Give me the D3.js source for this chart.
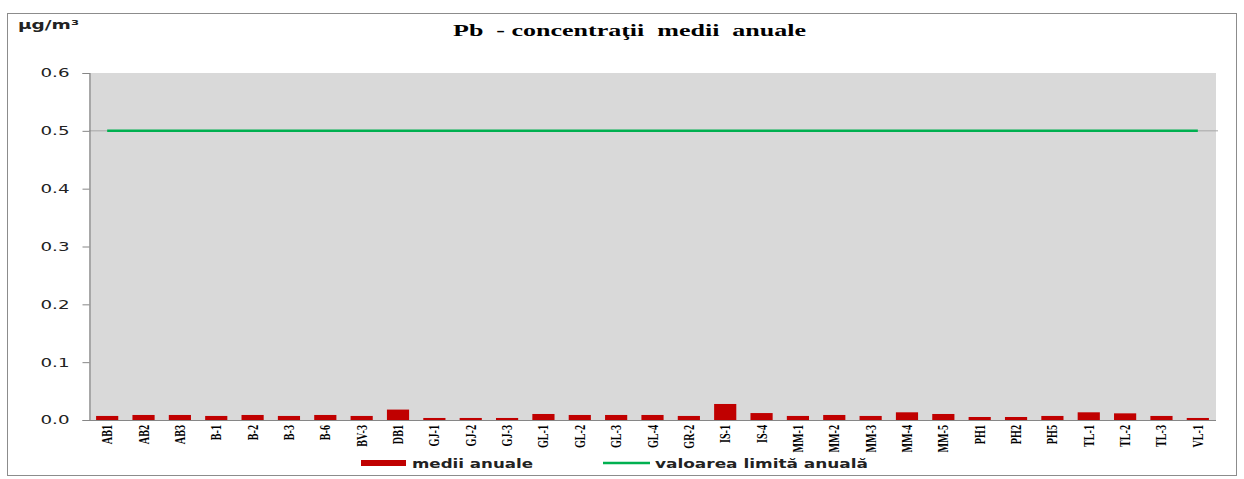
<!DOCTYPE html>
<html>
<head>
<meta charset="utf-8">
<script src="https://cdn.jsdelivr.net/npm/d3@7"></script>
<style>
  body { margin: 0; background: #fff; }
  svg { display: block; }
</style>
</head>
<body>
<svg id="chart" width="1244" height="479"></svg>
<script>
// statii de monitorizare
var stations = ["AB1", "AB2", "AB3", "B-1", "B-2", "B-3", "B-6", "BV-3", "DB1",
  "GJ-1", "GJ-2", "GJ-3", "GL-1", "GL-2", "GL-3", "GL-4", "GR-2", "IS-1", "IS-4",
  "MM-1", "MM-2", "MM-3", "MM-4", "MM-5", "PH1", "PH2", "PH5", "TL-1", "TL-2", "TL-3", "VL-1"];

// medii anuale (µg/m3)
var annualMeans = [0.007, 0.0087, 0.0087, 0.007, 0.0087, 0.007, 0.0087, 0.007, 0.018,
  0.0035, 0.0035, 0.0035, 0.0104, 0.0087, 0.0087, 0.0087, 0.007, 0.0277, 0.012,
  0.007, 0.0087, 0.007, 0.0133, 0.0104, 0.0052, 0.0052, 0.007, 0.0133, 0.0115, 0.007, 0.0035];

// valoarea limita anuala
var limitValue = 0.5;

var yTicks = [0, 0.1, 0.2, 0.3, 0.4, 0.5, 0.6];

var svgElem = d3.select("#chart");
var plot = { left: 89, right: 1216, top: 73, bottom: 420 };

// chenarul graficului
svgElem.append("rect")
  .attr("x", 7.5).attr("y", 13.5)
  .attr("width", 1229).attr("height", 462)
  .attr("fill", "#fff")
  .attr("stroke", "#8c8c8c");

var x = d3.scaleBand()
  .domain(stations)
  .range([plot.left, plot.right])
  .paddingInner(0.39)
  .paddingOuter(0.195);

var y = d3.scaleLinear()
  .domain([0, 0.6])
  .range([plot.bottom, plot.top]);

svgElem.append("rect")
  .attr("x", plot.left).attr("y", plot.top)
  .attr("width", plot.right - plot.left)
  .attr("height", plot.bottom - plot.top)
  .attr("fill", "#d9d9d9");

// gridline 0.5
svgElem.append("line")
  .attr("x1", plot.left).attr("x2", plot.right + 2)
  .attr("y1", y(limitValue)).attr("y2", y(limitValue))
  .attr("stroke", "#a6a6a6");

// axa y
var yAxis = svgElem.append("g")
  .attr("transform", "translate(" + (plot.left + 0.5) + ",0)")
  .call(d3.axisLeft(y).tickValues(yTicks).tickFormat(d3.format(".1f")).tickSize(7).tickPadding(13));
yAxis.select(".domain").attr("stroke", "#868686").attr("stroke-width", 1.2);
yAxis.selectAll(".tick line").attr("stroke", "#868686");
yAxis.selectAll(".tick text")
  .attr("font-family", "DejaVu Sans, Verdana, sans-serif")
  .attr("font-size", 12)
  .attr("textLength", 29)
  .attr("lengthAdjust", "spacingAndGlyphs")
  .attr("fill", "#222");

// bare
svgElem.selectAll("rect.bar")
  .data(annualMeans)
  .enter().append("rect")
  .attr("class", "bar")
  .attr("x", function(d, i) { return x(stations[i]); })
  .attr("y", function(d) { return y(d); })
  .attr("width", x.bandwidth())
  .attr("height", function(d) { return y(0) - y(d); })
  .attr("fill", "#c00000");

// linia limita
var limitLine = d3.line()
  .x(function(d) { return x(d) + x.bandwidth() / 2; })
  .y(function() { return y(limitValue); });
svgElem.append("path")
  .datum(stations)
  .attr("d", limitLine)
  .attr("fill", "none")
  .attr("stroke", "#00b050")
  .attr("stroke-width", 2.5);

// axa x
svgElem.append("line")
  .attr("x1", plot.left).attr("x2", plot.right)
  .attr("y1", plot.bottom + 0.5).attr("y2", plot.bottom + 0.5)
  .attr("stroke", "#868686").attr("stroke-width", 1.2);

svgElem.selectAll("text.xlab")
  .data(stations)
  .enter().append("text")
  .attr("class", "xlab")
  .attr("transform", function(d) {
    return "translate(" + (x(d) + x.bandwidth() / 2 + 5) + "," + (plot.bottom + 5) + ") rotate(-90) scale(0.7,1)";
  })
  .attr("text-anchor", "end")
  .attr("font-family", "Liberation Serif, Times New Roman, serif")
  .attr("font-weight", "bold")
  .attr("font-size", 14.5)
  .attr("fill", "#000")
  .text(function(d) { return d; });

// titlu
svgElem.append("text")
  .attr("x", 453).attr("y", 36)
  .style("white-space", "pre")
  .attr("font-family", "Liberation Serif, Times New Roman, serif")
  .attr("font-weight", "bold")
  .attr("font-size", 16)
  .attr("textLength", 353)
  .attr("lengthAdjust", "spacingAndGlyphs")
  .attr("fill", "#000")
  .text("Pb  - concentraţii  medii  anuale");

// unitate
svgElem.append("text")
  .attr("x", 18).attr("y", 29)
  .attr("font-family", "DejaVu Sans, Verdana, sans-serif")
  .attr("font-weight", "bold")
  .attr("font-size", 12)
  .attr("textLength", 61)
  .attr("lengthAdjust", "spacingAndGlyphs")
  .attr("fill", "#222")
  .text("µg/m³");

// legenda
var legend = svgElem.append("g").attr("class", "legend");
legend.append("rect")
  .attr("x", 361).attr("y", 460).attr("width", 45).attr("height", 6)
  .attr("fill", "#c00000");
legend.append("text")
  .attr("x", 412).attr("y", 468)
  .attr("font-family", "DejaVu Sans, Verdana, sans-serif")
  .attr("font-weight", "bold")
  .attr("font-size", 12)
  .attr("textLength", 121)
  .attr("lengthAdjust", "spacingAndGlyphs")
  .attr("fill", "#222")
  .text("medii anuale");
legend.append("line")
  .attr("x1", 603).attr("x2", 650).attr("y1", 463).attr("y2", 463)
  .attr("stroke", "#00b050").attr("stroke-width", 2.5);
legend.append("text")
  .attr("x", 655).attr("y", 468)
  .attr("font-family", "DejaVu Sans, Verdana, sans-serif")
  .attr("font-weight", "bold")
  .attr("font-size", 12)
  .attr("textLength", 213)
  .attr("lengthAdjust", "spacingAndGlyphs")
  .attr("fill", "#222")
  .text("valoarea limită anuală");
</script>
</body>
</html>
